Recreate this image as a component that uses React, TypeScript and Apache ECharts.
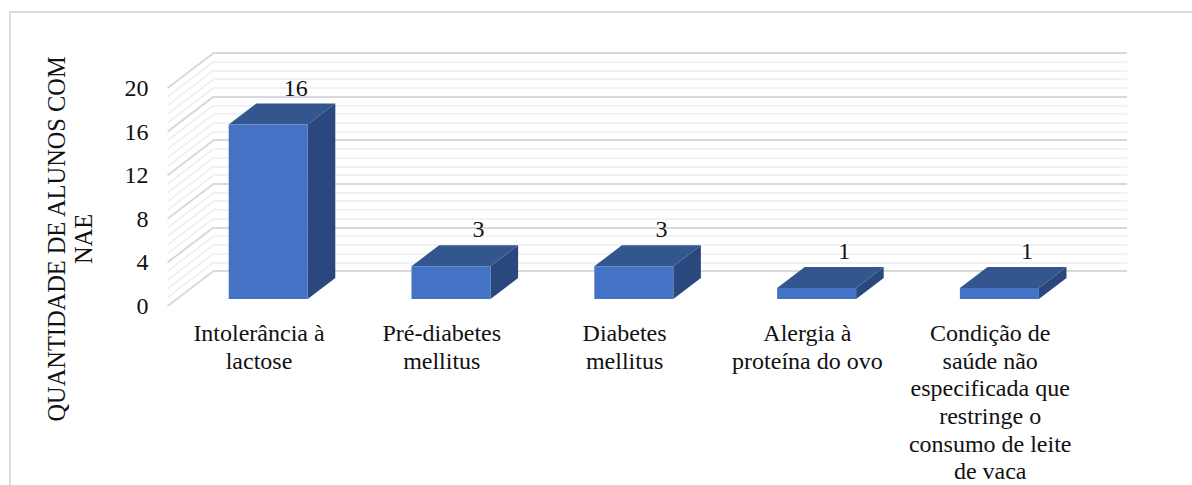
import React, { useEffect, useRef } from "react";
import * as echarts from "echarts";

const categories = [
  "Intolerância à\nlactose",
  "Pré-diabetes\nmellitus",
  "Diabetes\nmellitus",
  "Alergia à\nproteína do ovo",
  "Condição de\nsaúde não\nespecificada que\nrestringe o\nconsumo de leite\nde vaca",
];
const students = [16, 3, 3, 1, 1];
const axisName = "QUANTIDADE DE ALUNOS COM\nNAE";

const AXIS_MAX = 20;
const AXIS_STEP = 4;
const MINOR_PER_STEP = 5;

const FONT = '"Liberation Serif", "Times New Roman", serif';
const TEXT = "#111111";
const FRONT = "#4472C4";
const TOP = "#34568F";
const SIDE = "#2B487E";
const MAJOR = "#d9d9d9";
const MINOR = "#eeeeee";

// Perspective of the box: how far the back wall sits behind the front plane.
const DEPTH_X = 46;
const DEPTH_Y = -35;
// Bars occupy part of that depth.
const BAR_NEAR = 0.2;
const BAR_FAR = 0.8;
const BAR_WIDTH = 79;

const sideWallLevels: number[] = [];
for (let i = 0; i <= (AXIS_MAX / AXIS_STEP) * MINOR_PER_STEP; i++) {
  sideWallLevels.push((i * AXIS_STEP) / MINOR_PER_STEP);
}

function sideWallLine(_: unknown, api: any) {
  const v = api.value(0);
  const [x, y] = api.coord([0, v]);
  const left = x - api.size([1, 0])[0] / 2;
  const major = Math.abs(v / AXIS_STEP - Math.round(v / AXIS_STEP)) < 1e-6;
  return {
    type: "line",
    silent: true,
    shape: { x1: left, y1: y, x2: left + DEPTH_X, y2: y + DEPTH_Y },
    style: { stroke: major ? MAJOR : MINOR, lineWidth: major ? 2 : 1.6, fill: "none" },
  };
}

function bar3d(_: unknown, api: any) {
  const cat = api.value(0);
  const val = api.value(1);
  const [cx, yVal] = api.coord([cat, val]);
  const yBase = api.coord([cat, 0])[1];
  const nx = DEPTH_X * BAR_NEAR;
  const ny = DEPTH_Y * BAR_NEAR;
  const fx = DEPTH_X * BAR_FAR;
  const fy = DEPTH_Y * BAR_FAR;
  const dx = fx - nx;
  const dy = fy - ny;
  const x0 = cx + nx - BAR_WIDTH / 2;
  const x1 = x0 + BAR_WIDTH;
  const top = yVal + ny;
  const bottom = yBase + ny;
  return {
    type: "group",
    children: [
      {
        type: "polygon",
        shape: { points: [[x0, top], [x1, top], [x1 + dx, top + dy], [x0 + dx, top + dy]] },
        style: { fill: TOP },
      },
      {
        type: "polygon",
        shape: { points: [[x1, top], [x1 + dx, top + dy], [x1 + dx, bottom + dy], [x1, bottom]] },
        style: { fill: SIDE },
      },
      {
        type: "rect",
        shape: { x: x0, y: top, width: BAR_WIDTH, height: bottom - top },
        style: { fill: FRONT },
      },
      {
        type: "text",
        x: x0 + BAR_WIDTH / 2 + dx,
        y: top + dy - 16,
        style: {
          text: String(val),
          font: `24px ${FONT}`,
          fill: TEXT,
          align: "center",
          verticalAlign: "middle",
        },
      },
    ],
  };
}

export default function App() {
  const ref = useRef<HTMLDivElement>(null);

  useEffect(() => {
    const chart = echarts.init(ref.current!, undefined, { renderer: "svg" });
    chart.setOption({
      animation: false,
      backgroundColor: "#ffffff",
      grid: [
        { left: 167.6, top: 88, width: 914, height: 218, outerBoundsMode: "none" },
        { left: 213, top: 53, width: 914, height: 218, outerBoundsMode: "none" },
      ],
      xAxis: [
        {
          gridIndex: 0,
          type: "category",
          data: categories,
          axisLine: { show: false },
          axisTick: { show: false },
          axisLabel: {
            interval: 0,
            margin: 13,
            fontFamily: FONT,
            fontSize: 24,
            lineHeight: 27.7,
            color: TEXT,
            verticalAlign: "top",
          },
        },
        {
          gridIndex: 1,
          type: "category",
          data: categories,
          axisLine: { show: false },
          axisTick: { show: false },
          axisLabel: { show: false },
        },
      ],
      yAxis: [
        {
          gridIndex: 0,
          type: "value",
          min: 0,
          max: AXIS_MAX,
          interval: AXIS_STEP,
          axisLine: { show: false },
          axisTick: { show: false },
          splitLine: { show: false },
          axisLabel: { margin: 19, fontFamily: FONT, fontSize: 24, color: TEXT },
        },
        {
          gridIndex: 1,
          type: "value",
          min: 0,
          max: AXIS_MAX,
          interval: AXIS_STEP,
          axisLine: { show: false },
          axisTick: { show: false },
          axisLabel: { show: false },
          splitLine: { show: true, lineStyle: { color: MAJOR, width: 2 } },
          minorTick: { show: false, splitNumber: MINOR_PER_STEP },
          minorSplitLine: { show: true, lineStyle: { color: MINOR, width: 1.6 } },
        },
      ],
      series: [
        {
          type: "custom",
          xAxisIndex: 0,
          yAxisIndex: 0,
          clip: false,
          silent: true,
          renderItem: sideWallLine,
          data: sideWallLevels.map((v) => [v]),
          encode: { y: 0 },
          z: 1,
        },
        {
          type: "custom",
          xAxisIndex: 0,
          yAxisIndex: 0,
          clip: false,
          renderItem: bar3d,
          data: students.map((v, i) => [i, v]),
          encode: { x: 0, y: 1 },
          z: 5,
        },
      ],
      graphic: [
        {
          type: "polyline",
          z: 0,
          shape: { points: [[10, 490], [10, 12], [1195, 12]] },
          style: { fill: "none", stroke: "#dcdcdc", lineWidth: 2 },
        },
        {
          type: "text",
          x: 70,
          y: 239,
          rotation: Math.PI / 2,
          style: {
            text: axisName,
            font: `24.4px ${FONT}`,
            lineHeight: 27,
            fill: TEXT,
            align: "center",
            verticalAlign: "middle",
          },
        },
      ],
    });
    return () => chart.dispose();
  }, []);

  return (
    <div
      ref={ref}
      style={{ position: "fixed", left: 0, top: 0, width: 1192, height: 485 }}
    />
  );
}
